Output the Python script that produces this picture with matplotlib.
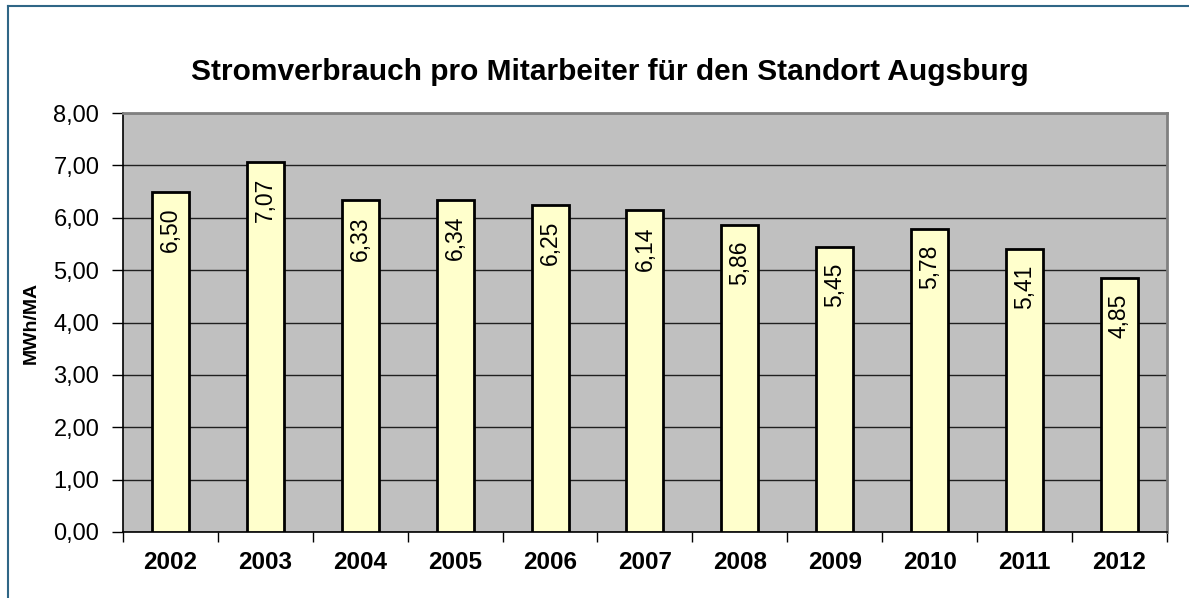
import numpy as np
import matplotlib.pyplot as plt
from matplotlib.lines import Line2D

years = ["2002", "2003", "2004", "2005", "2006", "2007", "2008", "2009", "2010", "2011", "2012"]
values = [6.50, 7.07, 6.33, 6.34, 6.25, 6.14, 5.86, 5.45, 5.78, 5.41, 4.85]
yticks = [0, 1, 2, 3, 4, 5, 6, 7, 8]

plt.rcParams["font.family"] = ["Liberation Sans", "DejaVu Sans"]

fig = plt.figure(figsize=(11.89, 5.98), dpi=100)
ax = fig.add_axes([0.1034, 0.1104, 0.878, 0.7006])

x = np.arange(len(years))
ax.set_facecolor("#C0C0C0")
ax.set_axisbelow(True)
ax.yaxis.grid(True, color="#202020", linewidth=1.0)

bars = ax.bar(x, values, width=0.39, color="#FFFFCC", edgecolor="black", linewidth=2, zorder=3)

for xi, v in zip(x, values):
    ax.text(xi, v - 0.3, f"{v:.2f}".replace(".", ","), rotation=90,
            ha="center", va="top", fontsize=16.5, zorder=4)

ax.set_xlim(-0.5, len(years) - 0.5)
ax.set_ylim(0, 8)
ax.set_yticks(yticks)
ax.set_yticklabels([f"{t:.2f}".replace(".", ",") for t in yticks], fontsize=17)
ax.set_xticks(x)
ax.set_xticklabels(years, fontsize=17.5, fontweight="bold")
ax.set_xticks(np.arange(-0.5, len(years)), minor=True)
ax.tick_params(axis="x", which="major", length=0, pad=14)
ax.tick_params(axis="x", which="minor", length=7, width=1, color="black")
ax.tick_params(axis="y", length=8, width=1, color="black", pad=9)

for side in ["top", "right"]:
    ax.spines[side].set_color("#808080")
    ax.spines[side].set_linewidth(2)
ax.spines["left"].set_color("black")
ax.spines["bottom"].set_color("black")
ax.spines["left"].set_linewidth(1.2)
ax.spines["bottom"].set_linewidth(1.2)

ax.set_ylabel("MWh/MA", fontsize=14, fontweight="bold", labelpad=10)

fig.text(0.5126, 0.880, "Stromverbrauch pro Mitarbeiter für den Standort Augsburg",
         ha="center", va="center", fontsize=21.5, fontweight="bold")

# outer frame (only left and top edges visible)
fig.add_artist(Line2D([0.0067, 0.0067], [0, 0.99], transform=fig.transFigure, color="#2F6686", linewidth=1.5))
fig.add_artist(Line2D([0.0067, 1.0], [0.99, 0.99], transform=fig.transFigure, color="#2F6686", linewidth=1.5))

fig.savefig("out.png", dpi=100)
